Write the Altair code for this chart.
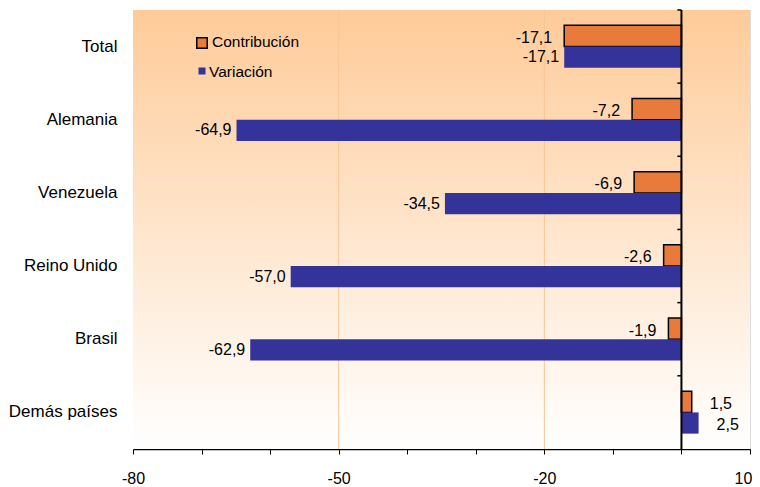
import altair as alt
import pandas as pd

categories = ["Total", "Alemania", "Venezuela", "Reino Unido", "Brasil", "Demás países"]
contribucion = [-17.1, -7.2, -6.9, -2.6, -1.9, 1.5]
variacion = [-17.1, -64.9, -34.5, -57.0, -62.9, 2.5]
series = ["Contribución", "Variación"]
x_major = [-80, -50, -20, 10]
x_minor = list(range(-80, 11, 5))
grid_vals = [-50, -20]

rows = []
for c, a, b in zip(categories, contribucion, variacion):
    rows.append({"cat": c, "serie": series[0], "v": a, "lab": f"{a:.1f}".replace(".", ",")})
    rows.append({"cat": c, "serie": series[1], "v": b, "lab": f"{b:.1f}".replace(".", ",")})
df = pd.DataFrame(rows)

W, H = 617, 439
FONT = "Liberation Sans"
ORANGE = "#E87B3B"
BLUE = "#343399"

yenc = alt.Y("cat:N", sort=categories,
             scale=alt.Scale(paddingInner=0.42, paddingOuter=0.21),
             axis=alt.Axis(title=None, domain=False, ticks=False, labelPadding=16,
                           labelFontSize=17, labelFont=FONT, labelColor="#000"))
yoff = alt.YOffset("serie:N", sort=series, scale=alt.Scale(paddingInner=0, paddingOuter=0))
xscale = alt.Scale(domain=[-80, 10], nice=False, zero=False)
major_expr = "[" + ",".join(str(v) for v in x_major) + "]"
xenc = alt.X("v:Q", scale=xscale,
             axis=alt.Axis(title=None, values=x_minor, grid=False,
                           labelExpr=f"indexof({major_expr}, datum.value) >= 0 ? ('' + datum.value) : ''",
                           labelFontSize=16, labelFont=FONT, labelColor="#000", labelPadding=16,
                           labelOffset={"condition": {"test": "datum.value == 10", "value": -7}, "value": 0},
                           tickSize=5, tickColor="#000", domainColor="#000", domainWidth=1.5,
                           labelFlush=False))

base = alt.Chart(df)

bg = alt.Chart(pd.DataFrame({"a": [0]})).mark_rect(
    color=alt.LinearGradient(gradient="linear",
                             stops=[alt.GradientStop(color="#FECB99", offset=0),
                                    alt.GradientStop(color="#FFFFFF", offset=1)],
                             x1=0, x2=0, y1=0, y2=1)
).encode(x=alt.value(0), x2=alt.value(W), y=alt.value(0), y2=alt.value(H))

grid = alt.Chart(pd.DataFrame({"g": grid_vals})).mark_rule(color="#F8C592", strokeWidth=1).encode(
    x=alt.X("g:Q", scale=xscale), y=alt.value(0), y2=alt.value(H))

bars_c = base.transform_filter(alt.datum.serie == series[0]).mark_bar(
    color=ORANGE, stroke="#000", strokeWidth=1.5).encode(
    y=yenc, yOffset=yoff, x=xenc, x2=alt.datum(0))
bars_v = base.transform_filter(alt.datum.serie == series[1]).mark_bar(
    color=BLUE).encode(y=yenc, yOffset=yoff, x=xenc, x2=alt.datum(0))

txt_common = dict(fontSize=16, font=FONT, color="#000", baseline="middle")
t_cneg = base.transform_filter((alt.datum.serie == series[0]) & (alt.datum.v < 0)).mark_text(
    align="right", dx=-12, dy=2, **txt_common).encode(y=yenc, yOffset=yoff, x=xenc, text="lab:N")
t_vneg = base.transform_filter((alt.datum.serie == series[1]) & (alt.datum.v < 0)).mark_text(
    align="right", dx=-5, **txt_common).encode(y=yenc, yOffset=yoff, x=xenc, text="lab:N")
t_pos = base.transform_filter(alt.datum.v >= 0).mark_text(
    align="left", dx=18, dy=2, **txt_common).encode(y=yenc, yOffset=yoff, x=xenc, text="lab:N")

zero = alt.Chart(pd.DataFrame({"z": [0]})).mark_rule(color="#000", strokeWidth=2).encode(
    x=alt.X("z:Q", scale=xscale), y=alt.value(0), y2=alt.value(H))

zticks = alt.Chart(pd.DataFrame({"cat": categories})).mark_rule(
    color="#000", strokeWidth=1.5, yOffset=-15.4).encode(
    y=alt.Y("cat:N", sort=categories, bandPosition=0),
    x=alt.datum(-0.6), x2=alt.datum(0))

leg_df = pd.DataFrame({"serie": series})
leg_sq1 = alt.Chart(leg_df).transform_filter(alt.datum.serie == series[0]).mark_square(
    size=110, color=ORANGE, stroke="#000", strokeWidth=1.5, opacity=1).encode(
    x=alt.value(69), y=alt.value(33))
leg_sq2 = alt.Chart(leg_df).transform_filter(alt.datum.serie == series[1]).mark_square(
    size=49, color=BLUE, opacity=1).encode(x=alt.value(69), y=alt.value(61))
leg_t1 = alt.Chart(leg_df).transform_filter(alt.datum.serie == series[0]).mark_text(
    align="left", baseline="middle", fontSize=15.5, font=FONT, color="#000").encode(
    x=alt.value(79), y=alt.value(32), text="serie:N")
leg_t2 = alt.Chart(leg_df).transform_filter(alt.datum.serie == series[1]).mark_text(
    align="left", baseline="middle", fontSize=15.5, font=FONT, color="#000").encode(
    x=alt.value(76), y=alt.value(62), text="serie:N")

chart = alt.layer(bg, grid, bars_c, bars_v, t_cneg, t_vneg, t_pos, zero, zticks,
                  leg_sq1, leg_sq2, leg_t1, leg_t2).properties(
    width=W, height=H,
    autosize=alt.AutoSizeParams(type="none"),
    padding={"left": 125, "top": 2, "right": 2, "bottom": 36},
).configure_view(stroke="#9A9A9A", strokeWidth=1.5).configure(background="#FFFFFF")

chart.save("out.html", embed_options={"renderer": "svg", "actions": False})
